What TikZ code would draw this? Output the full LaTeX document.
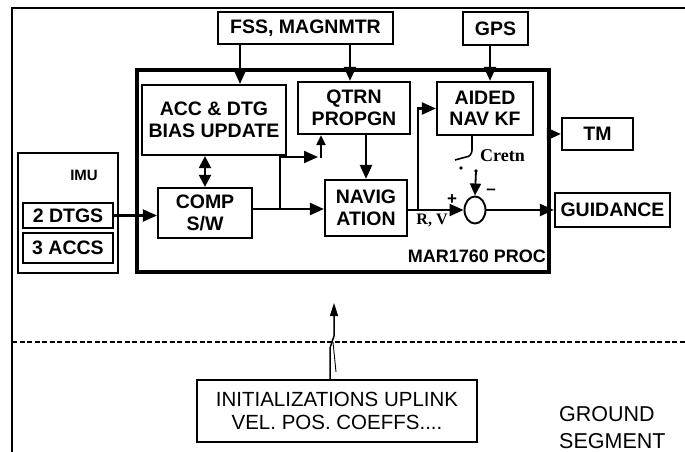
\documentclass[tikz,border=0pt]{standalone}
\usepackage{fontspec}
\setmainfont{Liberation Sans}
\newfontfamily\seriffont{Liberation Serif}
\usetikzlibrary{arrows.meta,shapes.geometric}
\begin{document}
\begin{tikzpicture}[x=1pt,y=-1pt,
  box/.style={draw,line width=2.2pt,inner sep=0pt,align=center,
    font=\bfseries\fontsize{19.5}{21.5}\selectfont},
  thinbox/.style={draw,line width=1.3pt,inner sep=0pt},
  arr/.style={line width=2.2pt,-{Triangle[length=14pt,width=12pt]}},
  darr/.style={line width=2.2pt,{Triangle[length=12pt,width=12pt]}-{Triangle[length=12pt,width=12pt]}},
  lbl/.style={inner sep=0pt,font=\bfseries\fontsize{15}{17}\selectfont},
  serlbl/.style={inner sep=0pt,font=\seriffont\bfseries\fontsize{18}{20}\selectfont},
  plain/.style={inner sep=0pt,align=center,font=\fontsize{20}{23}\selectfont}]
\useasboundingbox (0,0) rectangle (685,452);
\fill[white] (0,0) rectangle (685,452);
% outer frame and segment line
\draw[line width=2.4pt] (12,452) -- (12,8) -- (685,8);
\draw[line width=1.6pt,dash pattern=on 5pt off 2.5pt] (12,342) -- (685,342);
% boxes
\node[box,minimum width=175pt,minimum height=32pt] (fss) at (305.5,28) {FSS, MAGNMTR};
\node[box,minimum width=65pt,minimum height=33pt] (gps) at (495.5,28.5) {GPS};
\node[draw,line width=3.6pt,minimum width=412pt,minimum height=202pt,inner sep=0pt] (mar) at (343,171) {};
\node[box,minimum width=144pt,minimum height=70pt] (acc) at (214,120) {ACC \& DTG\\BIAS UPDATE};
\node[box,minimum width=112pt,minimum height=52pt] (qtrn) at (354,108) {QTRN\\PROPGN};
\node[box,minimum width=96pt,minimum height=53pt] (aided) at (485,108.5) {AIDED\\NAV KF};
\node[box,minimum width=71pt,minimum height=32pt] (tm) at (597.5,134) {TM};
\node[box,minimum width=115pt,minimum height=34pt] (guid) at (612.5,210) {GUIDANCE};
\node[box,minimum width=82pt,minimum height=56pt] (navig) at (366,208) {NAVIG\\ATION};
\node[box,minimum width=94pt,minimum height=50pt] (comp) at (205,213) {COMP\\S/W};
\node[thinbox,minimum width=100pt,minimum height=120pt] (imu) at (68,213) {};
\node[box,line width=1.8pt,minimum width=90pt,minimum height=25pt] (dtgs) at (68,215.5) {2 DTGS};
\node[box,line width=1.8pt,minimum width=90pt,minimum height=30pt] (accs) at (68,248) {3 ACCS};
\node[box,line width=1.8pt,minimum width=280pt,minimum height=62pt,
  font=\fontsize{20.5}{22.5}\selectfont] (init) at (337,411) {INITIALIZATIONS UPLINK\\VEL. POS. COEFFS....};
\node[draw,ellipse,line width=1.9pt,minimum width=21pt,minimum height=27pt,inner sep=0pt] (sum) at (475,210) {};
% labels
\node[lbl] (imulbl) at (84,175) {IMU};
\node[lbl,anchor=east,font=\bfseries\fontsize{18}{20}\selectfont] (marlbl) at (546,256) {MAR1760 PROC};
\node[serlbl,anchor=west] (cretn) at (480,156) {Cretn};
\node[serlbl,font=\seriffont\bfseries\fontsize{16}{18}\selectfont] (rv) at (432,220) {R, V};
\node[lbl,font=\bfseries\fontsize{17}{19}\selectfont] (plus) at (452,200) {+};
\node[lbl,font=\bfseries\fontsize{17}{19}\selectfont] (minus) at (491,192) {\textendash};
\node[plain,align=left,anchor=west,font=\fontsize{21.5}{27}\selectfont] (ground) at (559,428) {GROUND\\SEGMENT};
% coordinates for connectors
\coordinate (f1) at (240,44);
\coordinate (f2) at (350,44);
\coordinate (g1) at (490,45);
\coordinate (c1) at (252,209);
\coordinate (b1) at (280,209);
\coordinate (b2) at (318,157);
\coordinate (b3) at (321,158);
\coordinate (n1) at (407,210);
\coordinate (k1) at (418,210);
\coordinate (s0) at (472,135);
\coordinate (s1) at (472,150);
\coordinate (s2) at (455,160);
\coordinate (d1) at (461,168);
\coordinate (d2) at (476,171);
\coordinate (u0) at (330,380);
\coordinate (u1) at (330,348);
\coordinate (u2) at (334,336);
\coordinate (u3) at (334,303);
\coordinate (u4) at (333,342);
\coordinate (u5) at (336,372);
% connectors
\draw[arr] (f1) -- (f1 |- acc.north);
\draw[arr] (f2) -- (f2 |- qtrn.north);
\draw[arr] (g1) -- (g1 |- aided.north);
\draw[darr] (comp.north) -- (comp.north |- acc.south);
\draw[arr] (dtgs.east) -- (dtgs.east -| comp.west);
\draw[arr] (c1) -- (c1 -| navig.west);
\draw[arr] (b1) |- (b2);
\draw[line width=2pt,-{Triangle[length=10pt,width=9pt]}] (b3) -- (b3 |- qtrn.south);
\draw[arr] (navig.north |- qtrn.south) -- (navig.north);
\draw[arr] (n1) -- (sum.west);
\draw[arr] (k1) |- (aided.west);
\draw[arr] (sum.east) -- (guid.west);
\draw[arr] (tm.west -| mar.east) -- (tm.west);
% correction switch
\draw[line width=1.6pt] (s0) -- (s1) to[out=270,in=0] (466,157) -- (s2);
\fill (d1) circle (1.8pt);
\fill (d2) circle (1.8pt);
\draw[line width=1.8pt,-{Triangle[length=12pt,width=11pt]}] (d2) -- (sum.north);
% uplink
\draw[line width=1.5pt,-{Triangle[length=13pt,width=8pt]}] (u0) -- (u1) -- (u2) -- (u3);
\draw[line width=0.9pt] (u4) -- (u5);
\end{tikzpicture}
\end{document}
